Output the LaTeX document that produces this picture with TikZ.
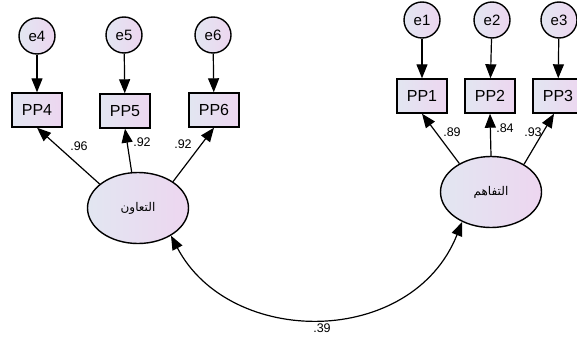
\documentclass[tikz,border=0pt]{standalone}
\usepackage{fontspec}
\setmainfont{Liberation Sans}
\newfontfamily\arabicfont[Script=Arabic]{DejaVu Sans}
\TeXXeTstate=1
\usetikzlibrary{arrows.meta,shapes.geometric}
\definecolor{fillL}{HTML}{E2E6F1}
\definecolor{fillR}{HTML}{EDD6F0}
\tikzset{
	shade/.style={draw,line width=1.4pt,left color=fillL,right color=fillR,inner sep=0pt},
	obs/.style={shade,rectangle,minimum width=50pt,minimum height=34pt,font=\fontsize{16}{18}\selectfont},
	err/.style={shade,circle,minimum size=36pt,font=\fontsize{15}{17}\selectfont},
	lat/.style={shade,ellipse,minimum width=101pt,minimum height=71pt,font=\fontsize{12}{14}\selectfont\arabicfont},
	wt/.style={inner sep=0pt,font=\fontsize{12.5}{14}\selectfont},
	-tri/.style={-{Triangle[length=14pt,width=11pt]},line width=1.2pt},
	tri-tri/.style={{Triangle[length=14pt,width=11pt]}-{Triangle[length=14pt,width=11pt]},line width=1.2pt}
}

\begin{document}
\begin{tikzpicture}[x=1pt,y=-1pt]
	\useasboundingbox (0,0) rectangle (577,340);
	\node[err] (e4) at (37,36) {e4};
	\node[err] (e5) at (124,35) {e5};
	\node[err] (e6) at (213,35) {e6};
	\node[err] (e1) at (422,20) {e1};
	\node[err] (e2) at (492,20) {e2};
	\node[err] (e3) at (559,20) {e3};
	\node[obs] (pp4) at (37,110) {PP4};
	\node[obs] (pp5) at (125,111) {PP5};
	\node[obs] (pp6) at (214,110) {PP6};
	\node[obs] (pp1) at (422,96) {PP1};
	\node[obs] (pp2) at (490,96) {PP2};
	\node[obs] (pp3) at (558,96) {PP3};
	\node[lat] (taawun) at (138,208) {\beginR التعاون\endR};
	\node[lat] (tafahum) at (491,192) {\beginR التفاهم\endR};
	\node[wt] (w4) at (79,146) {.96};
	\node[wt] (w5) at (142,142) {.92};
	\node[wt] (w6) at (183,144) {.92};
	\node[wt] (w1) at (452,132) {.89};
	\node[wt] (w2) at (505,128) {.84};
	\node[wt] (w3) at (533,132) {.93};
	\node[wt] (cov) at (322,328) {.39};
	\draw[-tri] (e4) -- (pp4);
	\draw[-tri] (e5) -- (pp5);
	\draw[-tri] (e6) -- (pp6);
	\draw[-tri] (e1) -- (pp1);
	\draw[-tri] (e2) -- (pp2);
	\draw[-tri] (e3) -- (pp3);
	\draw[-tri] (taawun.148) -- (pp4.south);
	\draw[-tri] (taawun.100) -- (pp5.south);
	\draw[-tri] (taawun.37) -- (pp6.south);
	\draw[-tri] (tafahum.138) -- (pp1.south);
	\draw[-tri] (tafahum.90) -- (pp2.south);
	\draw[-tri] (tafahum.40) -- ([xshift=-4pt]pp3.south);
	\draw[tri-tri] (taawun.-40) .. controls (230,348) and (412,348) .. (tafahum.226);
\end{tikzpicture}
\end{document}
